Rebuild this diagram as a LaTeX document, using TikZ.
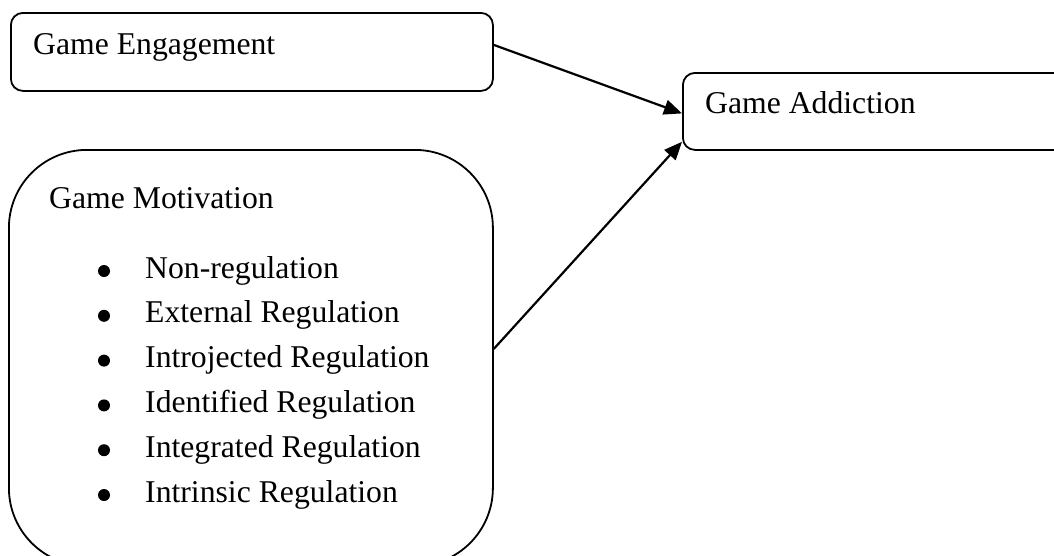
\documentclass[tikz,border=0pt]{standalone}
\usepackage{fontspec}
\setmainfont{Liberation Serif}
\usetikzlibrary{arrows.meta, positioning, calc}

\begin{document}
\begin{tikzpicture}[x=1pt, y=-1pt,
    box/.style={draw, line width=1.8pt, rounded corners=12pt, inner sep=0pt},
    lbl/.style={anchor=base west, inner sep=0pt, font=\fontsize{31.7}{44.8}\selectfont},
    link/.style={line width=2.2pt, -{Triangle[length=18pt, width=15pt]}}]
  \useasboundingbox (0,0) rectangle (1054,555);
  \clip (0,0) rectangle (1054,555);

  % boxes
  \node[box, anchor=north west, minimum width=482pt, minimum height=78pt] (eng) at (10,12) {};
  \node[box, anchor=north west, minimum width=420pt, minimum height=77pt] (add) at (682,72) {};
  \node[box, rounded corners=78pt, anchor=north west, minimum width=484pt, minimum height=416pt] (mot) at (8,149) {};

  % labels
  \node[lbl] (engLabel) at (33,54) {Game Engagement};
  \node[lbl] (addLabel) at (705,113) {Game Addiction};
  \node[lbl] (motLabel) at (49,208) {Game Motivation};

  \foreach \reg [count=\i] in {Non-regulation, External Regulation, Introjected Regulation,
      Identified Regulation, Integrated Regulation, Intrinsic Regulation} {
    \fill (104,{278+44.8*(\i-1)-7}) circle (6pt);
    \node[lbl] (reg\i) at (145,{278+44.8*(\i-1)}) {\reg};
  }

  % arrows
  \draw[link] ($(eng.east)+(0,-7)$) -- ($(add.west)+(0,2)$);
  \draw[link] ($(mot.east)+(0,-9)$) -- ($(add.south west)+(0,-9)$);
\end{tikzpicture}
\end{document}
